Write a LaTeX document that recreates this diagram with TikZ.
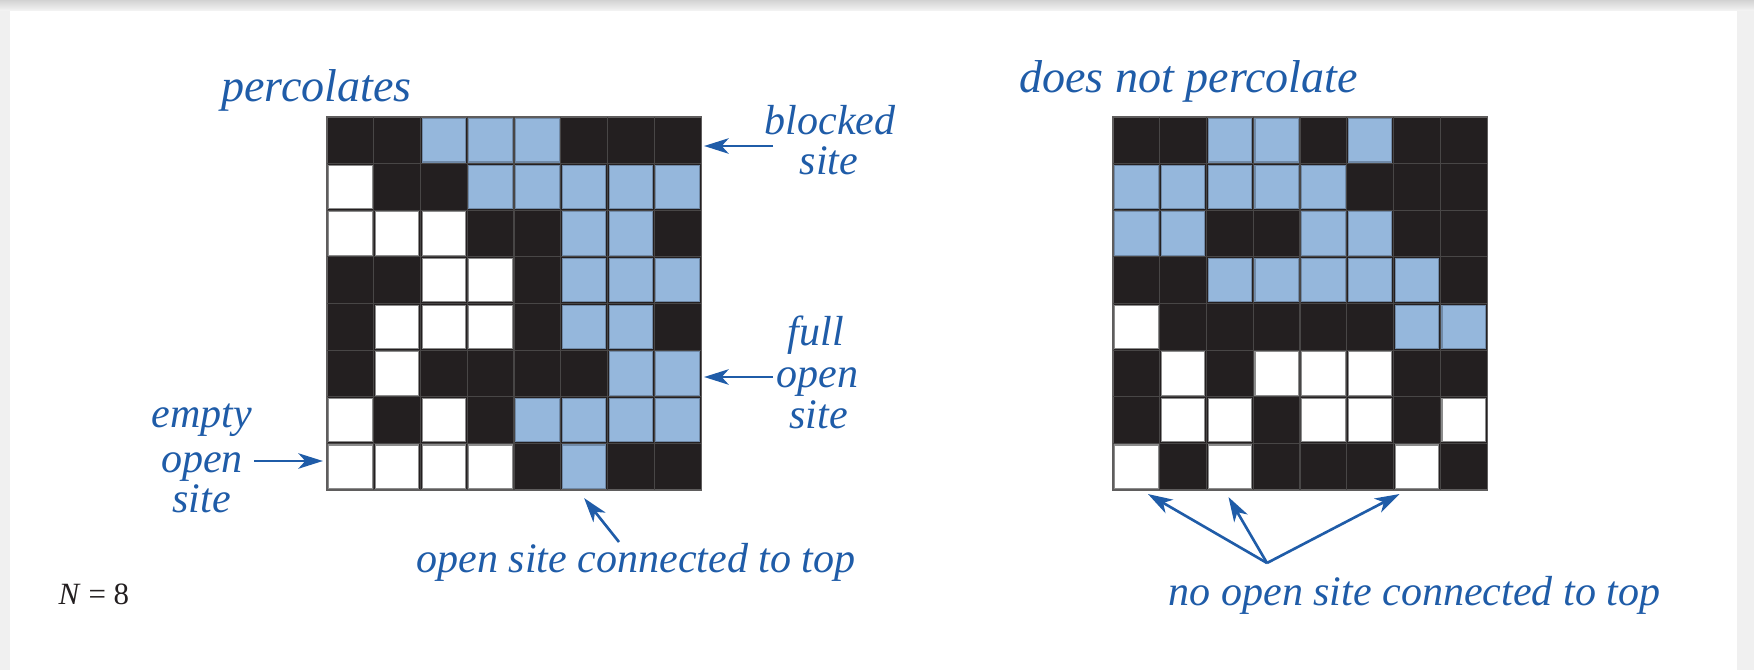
\documentclass[tikz,border=0pt]{standalone}
\usepackage{fontspec}
\setmainfont{Liberation Serif}
\usetikzlibrary{arrows.meta}
\definecolor{cblue}{RGB}{31,92,168}
\definecolor{cF}{RGB}{149,183,220}
\definecolor{cE}{RGB}{255,255,255}
\definecolor{cB}{RGB}{35,31,32}
\definecolor{dF}{RGB}{112,138,168}
\definecolor{dE}{RGB}{140,140,140}
\definecolor{dB}{RGB}{35,31,32}
\definecolor{cgl}{RGB}{72,70,70}
\definecolor{cfr}{RGB}{95,93,93}
\def\gridLdata{{B,B,F,F,F,B,B,B},{E,B,B,F,F,F,F,F},{E,E,E,B,B,F,F,B},{B,B,E,E,B,F,F,F},{B,E,E,E,B,F,F,B},{B,E,B,B,B,B,F,F},{E,B,E,B,F,F,F,F},{E,E,E,E,B,F,B,B}}
\def\gridRdata{{B,B,F,F,B,F,B,B},{F,F,F,F,F,B,B,B},{F,F,B,B,F,F,B,B},{B,B,F,F,F,F,F,B},{E,B,B,B,B,B,F,F},{B,E,B,E,E,E,B,B},{B,E,E,B,E,E,B,E},{E,B,E,B,B,B,E,B}}
\begin{document}
\begin{tikzpicture}[x=0.01cm,y=-0.01cm,
  lbl/.style={text=cblue, inner sep=0pt, font=\itshape\fontsize{11.95pt}{11.8pt}\selectfont},
  ttl/.style={text=cblue, inner sep=0pt, font=\itshape\fontsize{13.1pt}{13pt}\selectfont},
  gframe/.style={draw=cfr, fill=cB, line width=0.35pt, minimum width=3.74cm, minimum height=3.73cm, inner sep=0pt, outer sep=0pt},
  cell/.style={minimum size=0.433cm, inner sep=0pt, outer sep=0pt, line width=0.3pt},
  gline/.style={draw=cgl, line width=0.3pt},
  arr/.style={draw=cblue, line width=0.75pt, -{Stealth[length=7pt,width=4.4pt,inset=2pt]}}
]
\useasboundingbox (0,0) rectangle (1754,670);
% page background
\fill[gray!12] (0,0) rectangle (1754,670);
\shade[top color=gray!35, bottom color=gray!8] (0,0) rectangle (1754,11);
\fill[white] (10,11) rectangle (1737,670);

% left grid
\node[gframe] (gL) at (514,303.5) {};
\foreach \i in {1,...,7} {
  \draw[gline] ({327+\i*46.75},117) -- ({327+\i*46.75},490);
  \draw[gline] (327,{117+\i*46.625}) -- (701,{117+\i*46.625});
}
\foreach \rowlist [count=\ri from 0] in \gridLdata {
  \foreach \v [count=\ci from 0] in \rowlist {
    \node[cell, fill=c\v, draw=d\v] (L-\ri-\ci) at ({327+(\ci+0.5)*46.75},{117+(\ri+0.5)*46.625}) {};
  }
}

% right grid
\node[gframe] (gR) at (1300,303.5) {};
\foreach \i in {1,...,7} {
  \draw[gline] ({1113+\i*46.75},117) -- ({1113+\i*46.75},490);
  \draw[gline] (1113,{117+\i*46.625}) -- (1487,{117+\i*46.625});
}
\foreach \rowlist [count=\ri from 0] in \gridRdata {
  \foreach \v [count=\ci from 0] in \rowlist {
    \node[cell, fill=c\v, draw=d\v] (R-\ri-\ci) at ({1113+(\ci+0.5)*46.75},{117+(\ri+0.5)*46.625}) {};
  }
}

% titles
\node[ttl, anchor=base] (tL) at (316.5,102) {percolates};
\node[ttl, anchor=base] (tR) at (1188.5,93) {does not percolate};

% labels
\node[lbl, anchor=base] (blk1) at (830,135) {blocked};
\node[lbl, anchor=base] (blk2) at (829,175) {site};
\node[lbl, anchor=base] (ful1) at (816,345) {full};
\node[lbl, anchor=base] (ful2) at (817.5,387) {open};
\node[lbl, anchor=base] (ful3) at (818.5,428) {site};
\node[lbl, anchor=base] (emp1) at (202,427) {empty};
\node[lbl, anchor=base] (emp2) at (202,472) {open};
\node[lbl, anchor=base] (emp3) at (201.5,512) {site};
\node[lbl, anchor=base] (con) at (636,572) {open site connected to top};
\node[lbl, anchor=base] (nocon) at (1414.5,605) {no open site connected to top};
\node[anchor=base west, inner sep=0pt, text=cB, font=\fontsize{8.8pt}{10pt}\selectfont] (nn) at (58,604) {\textit{N} = 8};

% arrows
\coordinate (blkT) at (773,146);
\coordinate (fulT) at (773,377);
\coordinate (empT) at (254,461);
\coordinate (conT) at (619,542);
\coordinate (noA) at (1267,563);
\draw[arr] (blkT) -- ([xshift=0.03cm]gL.east |- blkT);
\draw[arr] (fulT) -- ([xshift=0.03cm]gL.east |- fulT);
\draw[arr] (empT) -- ([xshift=-0.04cm]gL.west |- empT);
\draw[arr] (conT) -- ([yshift=-0.08cm]L-7-5 |- gL.south);
\draw[arr] (noA) -- ([xshift=0.116cm,yshift=-0.057cm]R-7-0.south);
\draw[arr] (noA) -- ([xshift=-0.014cm,yshift=-0.087cm]R-7-2.south);
\draw[arr] (noA) -- ([xshift=-0.174cm,yshift=-0.057cm]R-7-6.south);
\end{tikzpicture}
\end{document}
